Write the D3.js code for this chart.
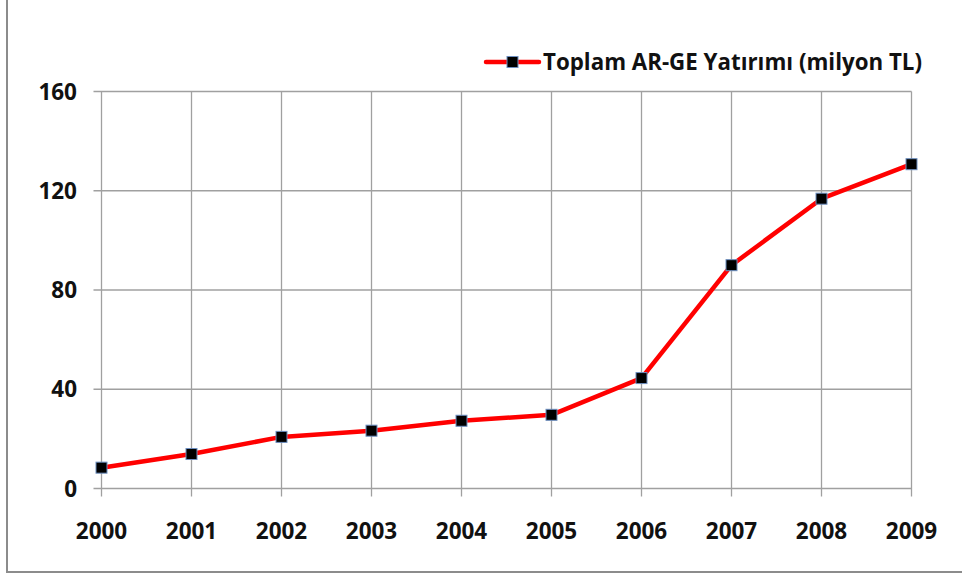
<!DOCTYPE html>
<html><head><meta charset="utf-8">
<script src="https://cdn.jsdelivr.net/npm/d3@7"></script>
<style>body{margin:0;background:#fff}svg{display:block}</style>
</head><body>
<svg id="c" width="962" height="576"></svg>
<script>
const years = ["2000","2001","2002","2003","2004","2005","2006","2007","2008","2009"];
const values = [8.4, 13.9, 20.8, 23.3, 27.3, 29.7, 44.5, 90.0, 116.8, 130.7];
const yTicks = [0, 40, 80, 120, 160];
const seriesName = "Toplam AR-GE Yatırımı (milyon TL)";

const svg = d3.select("#c");
const font = "'Open Sans', sans-serif";
const L = 101.5, R = 911.5, T = 91.5, B = 488.5;

// outer frame
svg.append("rect").attr("x", 7).attr("y", -10).attr("width", 980).attr("height", 582)
  .attr("fill", "none").attr("stroke", "#8c8c8c").attr("stroke-width", 2);

const x = d3.scalePoint().domain(years).range([L, R]);
const y = d3.scaleLinear().domain([0, 160]).range([B, T]);

const grid = "#a0a0a0";
svg.append("g").selectAll("line").data(yTicks).join("line")
  .attr("x1", L - 8).attr("x2", R).attr("y1", d => y(d)).attr("y2", d => y(d))
  .attr("stroke", grid).attr("stroke-width", 1.3);
svg.append("g").selectAll("line").data(years).join("line")
  .attr("x1", d => x(d)).attr("x2", d => x(d)).attr("y1", T).attr("y2", B + 8)
  .attr("stroke", grid).attr("stroke-width", 1.3);

svg.append("g").selectAll("text").data(yTicks).join("text")
  .attr("x", 77).attr("y", d => y(d)).attr("dy", "0.36em").attr("text-anchor", "end")
  .attr("font-family", font).attr("font-weight", 700).attr("font-size", 22.5)
  .attr("fill", "#111").text(d => d);
svg.append("g").selectAll("text").data(years).join("text")
  .attr("x", d => x(d)).attr("y", 539).attr("text-anchor", "middle")
  .attr("font-family", font).attr("font-weight", 700).attr("font-size", 22.5)
  .attr("fill", "#111").text(d => d);

const line = d3.line().x((d, i) => x(years[i])).y(d => y(d));
svg.append("path").datum(values).attr("d", line).attr("fill", "none")
  .attr("stroke", "#ff0000").attr("stroke-width", 4.5).attr("stroke-linejoin", "round");
svg.append("g").selectAll("rect").data(values).join("rect")
  .attr("x", (d, i) => x(years[i]) - 5.5).attr("y", d => y(d) - 5.5)
  .attr("width", 11).attr("height", 11).attr("fill", "#000")
  .attr("stroke", "#6d8fc0").attr("stroke-width", 1);

const lg = svg.append("g");
lg.append("line").attr("x1", 486).attr("x2", 539).attr("y1", 62).attr("y2", 62)
  .attr("stroke", "#ff0000").attr("stroke-width", 4.5).attr("stroke-linecap", "round");
lg.append("rect").attr("x", 507).attr("y", 56.5).attr("width", 11).attr("height", 11)
  .attr("fill", "#000").attr("stroke", "#6d8fc0").attr("stroke-width", 1);
lg.append("text").attr("x", 543).attr("y", 70)
  .attr("font-family", font).attr("font-weight", 700).attr("font-size", 23)
  .attr("textLength", 379).attr("lengthAdjust", "spacingAndGlyphs")
  .attr("fill", "#111").text(seriesName);
</script>
</body></html>
